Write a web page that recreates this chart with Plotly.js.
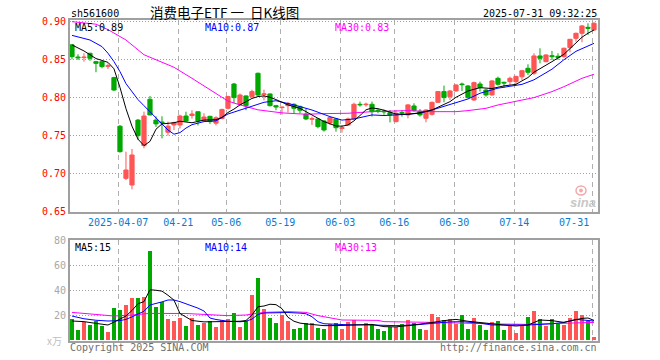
<!DOCTYPE html>
<html><head><meta charset="utf-8">
<script src="https://cdn.plot.ly/plotly-3.0.1.min.js"></script>
<style>html,body{margin:0;padding:0;background:#fff;}#chart{width:660px;height:360px;}</style>
</head><body><div id="chart"></div>
<script>
// ---- data ----
const openP = [0.869,0.8530,0.8522,0.8579,0.8469,0.8469,0.8408,0.8259,0.762,0.6934,
0.6846,0.770,0.7364,0.7974,0.770,0.7675,0.754,0.7636,0.7636,0.7754,
0.776,0.781,0.769,0.775,0.766,0.772,0.7855,0.8175,0.7908,0.8018,
0.8009,0.8316,0.8035,0.8044,0.789,0.7864,0.789,0.7908,0.788,0.778,
0.7712,0.7715,0.7689,0.7662,0.7715,0.7590,0.7636,0.7715,0.7908,0.7902,
0.7908,0.783,0.782,0.7798,0.768,0.780,0.7768,0.7886,0.7816,0.7724,
0.7776,0.7934,0.8075,0.8009,0.8083,0.8175,0.8149,0.7965,0.8175,0.8096,
0.8031,0.825,0.8197,0.8206,0.8206,0.827,0.8382,0.8316,0.8544,0.8469,
0.8548,0.854,0.8535,0.8654,0.8776,0.8842,0.8921,0.8886];
const highP = [0.870,0.8566,0.8579,0.8585,0.848,0.8475,0.8447,0.827,0.7635,0.7285,
0.732,0.7715,0.7811,0.8018,0.775,0.775,0.768,0.768,0.777,0.781,
0.783,0.7815,0.779,0.7755,0.775,0.785,0.802,0.819,0.805,0.8025,
0.81,0.8325,0.81,0.805,0.79,0.7875,0.794,0.792,0.789,0.7855,
0.7746,0.7724,0.770,0.7746,0.7724,0.7636,0.7733,0.793,0.7943,0.793,
0.7943,0.785,0.784,0.7833,0.7833,0.7833,0.791,0.7921,0.7846,0.784,
0.7943,0.8083,0.8154,0.8096,0.8171,0.8193,0.8162,0.8206,0.8206,0.811,
0.8228,0.8272,0.8206,0.8272,0.8283,0.836,0.8434,0.8579,0.8645,0.8566,
0.861,0.8579,0.8654,0.8768,0.8851,0.8952,0.8974,0.8987];
const lowP = [0.850,0.8491,0.8469,0.848,0.833,0.8382,0.8373,0.8083,0.7272,0.6912,
0.679,0.744,0.733,0.7765,0.761,0.746,0.7496,0.757,0.759,0.768,
0.772,0.763,0.768,0.765,0.763,0.771,0.784,0.792,0.79,0.783,
0.799,0.8018,0.796,0.788,0.783,0.777,0.78,0.779,0.779,0.770,
0.7636,0.7592,0.7548,0.7636,0.7548,0.7535,0.7623,0.770,0.7877,0.7877,
0.7746,0.779,0.777,0.767,0.767,0.7746,0.7724,0.7811,0.7746,0.7671,
0.776,0.7925,0.7934,0.7965,0.8075,0.8083,0.7987,0.7952,0.8075,0.8009,
0.8022,0.8154,0.8127,0.8162,0.8162,0.8228,0.8294,0.8294,0.8447,0.846,
0.8491,0.8491,0.8522,0.8592,0.8732,0.8724,0.882,0.8873];
const closeP = [0.8535,0.8520,0.8528,0.8513,0.8447,0.8404,0.8414,0.8096,0.7285,0.7044,
0.7241,0.7496,0.7754,0.7768,0.765,0.7665,0.762,0.7667,0.7754,0.7689,
0.778,0.769,0.774,0.768,0.773,0.784,0.801,0.7996,0.803,0.789,
0.8075,0.803,0.8045,0.789,0.7873,0.7870,0.792,0.7855,0.783,0.7715,
0.7718,0.7614,0.757,0.7733,0.760,0.7600,0.7715,0.7908,0.7902,0.7908,
0.7811,0.782,0.781,0.7768,0.779,0.7795,0.790,0.7825,0.7768,0.7833,
0.7934,0.8075,0.7996,0.8083,0.8162,0.8167,0.7996,0.8193,0.8127,0.8031,
0.8215,0.8171,0.8189,0.825,0.8275,0.835,0.8329,0.8544,0.8513,0.8557,
0.8535,0.8526,0.8645,0.8763,0.8842,0.8939,0.8908,0.8974];
const volume = [16.8,8,14.1,12.3,15.5,11.5,6.7,25.6,24,28,
33.6,33.6,34.4,71.2,26.4,30.1,16.8,15.2,17.6,11.2,
17.3,12,13.9,15.2,10.4,16,16.5,21.6,10.4,15.2,
36,49.6,24.8,17.6,13.6,20,15.2,8.8,9.6,13.6,
13.6,9.6,8.8,12.5,13.9,8.8,14.4,15.7,9.6,13.6,
12,8.8,7.2,10.4,10.4,12.8,16,13.6,8.8,8,
20.8,18.7,16,16.8,12.8,20,8.8,17.6,12.3,8,
14.7,15.2,8,12,5.6,12,18.4,23.2,16.8,11.2,
16.8,13.6,12,17.6,23.2,20,15.2,2.4];

// moving-average lines (candle index, value)
const ma5Idx = [0,2,4,6,7,8,9,10,11,12,13,14,15,16,17,18,20,22,24,25,26,27,28,30,31,32,33,34,35,36,38,40,42,44,45,46,47,48,49,50,51,52,54,56,58,60,61,63,64,66,68,70,72,74,75,76,77,78,80,82,84,85,86,87];
const ma5Val = [0.8689,0.861,0.851,0.846,0.8375,0.813,0.785,0.762,0.745,0.7364,0.742,0.758,0.765,0.766,0.7665,0.7685,0.7665,0.770,0.7705,0.7735,0.780,0.7845,0.790,0.7985,0.801,0.8018,0.800,0.797,0.793,0.790,0.7855,0.7768,0.768,0.7623,0.762,0.7636,0.769,0.776,0.7835,0.786,0.785,0.783,0.778,0.7775,0.7798,0.7833,0.787,0.7943,0.800,0.8083,0.8127,0.8115,0.8150,0.8170,0.8216,0.826,0.8330,0.838,0.8469,0.8566,0.8711,0.879,0.8843,0.8886];
const ma10Idx = [0,3,5,6,7,8,9,10,11,12,13,14,15,16,17,18,19,20,22,24,26,29,32,34,35,37,40,43,45,47,50,52,54,56,58,60,63,66,68,71,73,75,77,78,80,82,84,86,87];
const ma10Val = [0.8815,0.8754,0.8667,0.858,0.847,0.8338,0.818,0.8075,0.797,0.789,0.781,0.772,0.765,0.757,0.7515,0.7535,0.7595,0.764,0.768,0.769,0.778,0.7855,0.7934,0.7955,0.794,0.790,0.7833,0.7746,0.770,0.7715,0.7768,0.776,0.7768,0.778,0.779,0.7833,0.7908,0.7978,0.8053,0.8120,0.8145,0.8170,0.8230,0.828,0.837,0.8495,0.8605,0.8675,0.871];
const ma30Idx = [0,4,6,9,12,15,17,20,23,26,28,31,35,39,42,46,50,56,60,64,66,69,71,74,77,80,82,85,87];
const ma30Val = [0.8995,0.8962,0.889,0.8754,0.856,0.846,0.8395,0.825,0.8096,0.795,0.790,0.7835,0.7795,0.7777,0.7785,0.779,0.7811,0.7825,0.7811,0.7811,0.7825,0.7855,0.7899,0.7943,0.7996,0.8075,0.814,0.825,0.8303];

const vma5Idx = [0,2,4,6,7,8,9,10,11,12,13,14,15,16,17,18,19,20,22,24,26,27,28,29,30,31,32,33,34,35,36,37,38,39,40,42,44,46,48,50,52,54,56,58,60,62,64,66,68,70,72,74,76,78,80,82,84,85,86,87];
const vma5Val = [15.2,14.7,13.3,12,14.3,16.7,19.2,23.6,29,30.7,40.2,39.8,39.1,35.8,31.9,21.2,18.2,15.6,14.5,14.5,14.5,15,15,15.6,20,26.6,27.2,28.6,28.3,25.1,18.2,15,13.5,12.9,12.5,11.5,11.5,12,12.5,12.5,10.7,10.5,11.5,12.5,14,15.5,16.5,15,14,12.5,12,11.2,12,16,15.5,14.1,16.6,17.3,17.6,15.7];
const vma10Idx = [0,2,4,6,8,9,10,11,12,13,14,15,16,17,18,19,20,21,22,23,24,26,28,29,30,31,32,34,36,38,39,40,41,42,44,46,50,54,57,60,63,65,68,70,76,80,82,84,86,87];
const vma10Val = [19.2,17,15.8,15.2,15.5,16.5,18.5,20.5,23,28,29,30.5,32,32,30.7,29,27.4,25.5,23.2,17.6,16.4,15,14.6,15,16.7,20.5,21.6,22,22,21.5,21,18.6,14.6,13,12.5,12.2,12,11.5,12,13.3,14.5,14.7,13.5,12,12,13,14.1,16.5,16,15.2];
const vma30Idx = [0,4,7,10,13,19,22,26,29,32,36,39,41,43,45,51,52,60,65,71,76,83,87];
const vma30Val = [22.1,20.5,19.2,20,21.3,21.2,20.5,19.5,20,22.1,22.7,22.1,19.5,17.5,16,15.7,14.7,14.1,13.3,12.8,12.5,13.3,14.1];

const tickIdx = [8,18,26,35,45,54,64,74,87];
const tickLabels = ['2025-04-07','04-21','05-06','05-19','06-03','06-16','06-30','07-14','07-31'];
const priceTicks = [0.65,0.70,0.75,0.80,0.85,0.90];
const priceTickText = ['0.65','0.70','0.75','0.80','0.85','0.90'];
const volTicks = [20,40,60,80];
const volTickText = ['20','40','60','80'];

// ---- styling ----
const RED = '#ff5555', GREEN = '#00a800';
const MONO = 'DejaVu Sans Mono, Liberation Mono, monospace';
const NB = '\u00a0';
const idx = openP.map((_, i) => i);
const volColors = idx.map(i => closeP[i] >= openP[i] ? RED : GREEN);
const tickPos = tickIdx.map(v => v - 0.3);
// last label is kept inside the frame, as in the reference
const tickShown = tickLabels.map((t, i) => i === tickLabels.length - 1 ? t + NB.repeat(6) : t);

const L = 70, R = 598, T = 20, B = 341;
const ax = x => (x - L) / (R - L);
const ay = y => (B - y) / (B - T);

const traces = [
  {type:'candlestick', x: idx, open: openP, high: highP, low: lowP, close: closeP,
   xaxis:'x', yaxis:'y', whiskerwidth: 0, hoverinfo:'skip',
   increasing:{line:{color:RED,width:1}, fillcolor:RED},
   decreasing:{line:{color:GREEN,width:1}, fillcolor:GREEN}},
  {type:'scatter', mode:'lines', x: ma30Idx, y: ma30Val, xaxis:'x', yaxis:'y', line:{color:'#ff00ff',width:1}, hoverinfo:'skip'},
  {type:'scatter', mode:'lines', x: ma10Idx, y: ma10Val, xaxis:'x', yaxis:'y', line:{color:'#0000ff',width:1}, hoverinfo:'skip'},
  {type:'scatter', mode:'lines', x: ma5Idx, y: ma5Val, xaxis:'x', yaxis:'y', line:{color:'#000000',width:1}, hoverinfo:'skip'},
  {type:'bar', x: idx, y: volume, xaxis:'x2', yaxis:'y2', width: 0.78, marker:{color: volColors, line:{width:0}}, hoverinfo:'skip'},
  {type:'scatter', mode:'lines', x: vma30Idx, y: vma30Val, xaxis:'x2', yaxis:'y2', line:{color:'#ff00ff',width:1}, hoverinfo:'skip'},
  {type:'scatter', mode:'lines', x: vma10Idx, y: vma10Val, xaxis:'x2', yaxis:'y2', line:{color:'#0000ff',width:1}, hoverinfo:'skip'},
  {type:'scatter', mode:'lines', x: vma5Idx, y: vma5Val, xaxis:'x2', yaxis:'y2', line:{color:'#000000',width:1}, hoverinfo:'skip'}
];

const border = {showline:true, mirror:true, linecolor:'#a0a0a0', linewidth:2, zeroline:false, fixedrange:true};
const xr = [-0.33, 87.67];

function ann(text, x, y, xanchor, color, size, family, extra) {
  return Object.assign({text, x: ax(x), y: ay(y), xref:'paper', yref:'paper', xanchor, yanchor:'middle',
    showarrow:false, font:{family: family || MONO, size: size || 10, color}}, extra || {});
}

const layout = {
  width: 660, height: 360,
  margin: {l: L, r: 660 - R, t: T, b: 360 - B, pad: 0},
  paper_bgcolor:'#ffffff', plot_bgcolor:'#ffffff',
  showlegend:false, boxgap:0.3, boxgroupgap:0, bargap:0,
  xaxis: Object.assign({}, border, {domain:[0,1], anchor:'y', range: xr, tickmode:'array', tickvals: tickPos, ticktext: tickShown,
     ticks:'', showgrid:true, gridcolor:'#b0b0b0', gridwidth:1, griddash:'5px,4px',
     tickfont:{family: MONO, size:10, color:'#0a7ad0'}, rangeslider:{visible:false}}),
  yaxis: Object.assign({}, border, {domain:[(B-212)/(B-T), 1], anchor:'x', range:[0.6491, 0.9017], tickmode:'array',
     tickvals: priceTicks, ticktext: priceTickText, ticks:'', showgrid:true, gridcolor:'#a0a0a0', gridwidth:1, griddash:'1px,2px',
     tickfont:{family: MONO, size:10, color:'#ff0000'}}),
  xaxis2: Object.assign({}, border, {domain:[0,1], anchor:'y2', range: xr, tickmode:'array', tickvals: tickPos, ticktext: tickShown,
     showticklabels:false, ticks:'', showgrid:true, gridcolor:'#b0b0b0', gridwidth:1, griddash:'5px,4px', rangeslider:{visible:false}}),
  yaxis2: Object.assign({}, border, {domain:[0, (B-240)/(B-T)], anchor:'x2', range:[-0.8, 80], tickmode:'array',
     tickvals: volTicks, ticktext: volTickText, ticks:'', showgrid:true, gridcolor:'#a0a0a0', gridwidth:1, griddash:'1px,2px',
     tickfont:{family: MONO, size:10, color:'#a8a8a8'}}),
  shapes: [
    {type:'circle', xref:'paper', yref:'paper', x0: ax(576), x1: ax(586), y0: ay(195), y1: ay(186),
     line:{color:'#f2a8a8', width:1.5}, fillcolor:'rgba(0,0,0,0)'},
    {type:'circle', xref:'paper', yref:'paper', x0: ax(579.5), x1: ax(582.5), y0: ay(192), y1: ay(189),
     line:{color:'#f2a8a8', width:1}, fillcolor:'#f2a8a8'}
  ],
  annotations: [
    ann('sh561600', 69, 13, 'left', '#000'),
    ann('消费电子ETF' + NB + '一' + NB + NB + '日K线图', 148, 12, 'left', '#000', 13.5, 'Noto Sans CJK SC'),
    ann('2025-07-31 09:32:25', 599, 13, 'right', '#000'),
    ann('MA5:0.89', 73, 27, 'left', '#000'),
    ann('MA10:0.87', 203, 27, 'left', '#0000ff'),
    ann('MA30:0.83', 333, 27, 'left', '#ff00ff'),
    ann('MA5:15', 73, 247, 'left', '#000'),
    ann('MA10:14', 203, 247, 'left', '#0000ff'),
    ann('MA30:13', 333, 247, 'left', '#ff00ff'),
    ann('x万', 64, 340, 'right', '#c0c0c0', 10, 'Noto Sans CJK SC'),
    ann('Copyright 2025 SINA.COM', 68, 347, 'left', '#707070'),
    ann('http://finance.sina.com.cn', 599, 347, 'right', '#707070'),
    ann('<b><i>sina</i></b>', 598, 202, 'right', '#c8c8c8', 13, 'Liberation Sans')
  ]
};

Plotly.newPlot('chart', traces, layout, {staticPlot:true, displayModeBar:false});
</script>
</body></html>
